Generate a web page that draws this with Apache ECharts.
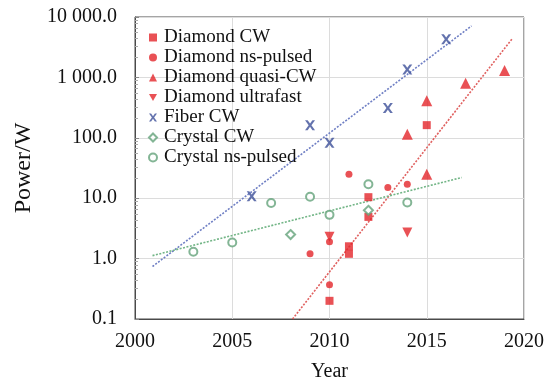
<!DOCTYPE html>
<html>
<head>
<meta charset="utf-8">
<script src="https://cdn.jsdelivr.net/npm/echarts@6/dist/echarts.min.js"></script>
<style>html,body{margin:0;padding:0;background:#fff}#c{width:552px;height:387px}</style>
</head>
<body>
<div id="c"></div>
<script>
var seriesNames = ['Diamond CW','Diamond ns-pulsed','Diamond quasi-CW','Diamond ultrafast','Fiber CW','Crystal CW','Crystal ns-pulsed'];
var diamondCW = [[2010,0.2],[2011,1.2],[2011,1.6],[2012,4.9],[2012,10.4],[2015,162]];
var diamondNs = [[2009,1.2],[2010,0.37],[2010,1.9],[2011,25],[2013,15],[2014,17]];
var diamondQuasi = [[2014,115],[2015,25],[2015,410],[2017,800],[2019,1300]];
var diamondUltra = [[2010,2.3],[2014,2.7]];
var fiberCW = [[2006,10.8],[2009,162],[2010,83],[2013,310],[2014,1350],[2016,4300]];
var crystalCW = [[2008,2.5],[2012,6.3]];
var crystalNs = [[2003,1.3],[2005,1.85],[2007,8.3],[2009,10.6],[2010,5.3],[2012,17],[2014,8.5]];
var trendFiber = [[2000.9,0.74],[2017.3,7100]];
var trendDiamond = [[2008.1,0.1],[2019.4,4400]];
var trendCrystal = [[2000.9,1.12],[2016.8,22]];
var yTickLabels = {'0.1':'0.1','1':'1.0','10':'10.0','100':'100.0','1000':'1 000.0','10000':'10 000.0'};

var RED = '#e3262b', BLUE = '#3c4f99', GREEN = '#64a27a';
var FONT = 'Liberation Serif';
var xPath = 'path://M0,0 L2.6,0 L5,3.3 L7.4,0 L10,0 L6.4,5 L10,10 L7.4,10 L5,6.7 L2.6,10 L0,10 L3.6,5 Z';
var downTri = 'path://M0,0 L10,0 L5,9 Z';

function sc(name, data, symbol, size, color, extra) {
  var s = {name: name, type: 'scatter', data: data, symbol: symbol, symbolSize: size,
    itemStyle: {color: color}, z: 3};
  if (extra) for (var k in extra) s[k] = extra[k];
  return s;
}
function tl(data, color) {
  return {type: 'line', data: data, symbol: 'none', silent: true, z: 2,
    lineStyle: {color: color, width: 1.6, type: [2, 1.5]}};
}

var chart = echarts.init(document.getElementById('c'));
chart.setOption({
  animation: false,
  textStyle: {fontFamily: FONT},
  grid: {left: 135, right: 28, top: 17, bottom: 60, show: true, borderColor: '#4a4a4a', borderWidth: 1},
  legend: {
    orient: 'vertical', left: 143, top: 23, itemGap: 1,
    itemWidth: 8, itemHeight: 8,
    data: [
      {name: seriesNames[0], icon: 'rect'},
      {name: seriesNames[1], icon: 'circle'},
      {name: seriesNames[2], icon: 'triangle'},
      {name: seriesNames[3], icon: downTri},
      {name: seriesNames[4], icon: xPath},
      {name: seriesNames[5], icon: 'emptyDiamond'},
      {name: seriesNames[6], icon: 'emptyCircle'}
    ],
    textStyle: {fontFamily: FONT, fontSize: 19, color: '#111', lineHeight: 19, padding: [0,0,0,2]}
  },
  xAxis: {
    type: 'value', min: 2000, max: 2020, interval: 5,
    name: 'Year', nameLocation: 'middle', nameGap: 43,
    nameTextStyle: {fontFamily: FONT, fontSize: 20, color: '#111'},
    axisLine: {show: true, lineStyle: {color: '#4a4a4a'}},
    axisTick: {show: false},
    axisLabel: {fontFamily: FONT, fontSize: 20, color: '#111', margin: 13,
      formatter: function (v) { return String(v); }},
    splitLine: {show: true, lineStyle: {color: '#dcdcdc', width: 1}}
  },
  yAxis: {
    type: 'log', logBase: 10, min: 0.1, max: 10000,
    name: 'Power/W', nameLocation: 'middle', nameGap: 99,
    nameTextStyle: {fontFamily: FONT, fontSize: 24, color: '#111'},
    axisLine: {show: true, lineStyle: {color: '#4a4a4a'}},
    axisTick: {show: true, inside: true, length: 4, lineStyle: {color: '#888'}},
    minorTick: {show: true, splitNumber: 8, length: 3, lineStyle: {color: '#aaa'}},
    axisLabel: {fontFamily: FONT, fontSize: 20, color: '#111', margin: 18,
      formatter: function (v) { var k = String(+v.toPrecision(3)); return yTickLabels[k] || k; }},
    splitLine: {show: true, lineStyle: {color: '#dcdcdc', width: 1}}
  },
  series: [
    tl(trendFiber, '#6f7fc4'),
    tl(trendDiamond, '#e0605f'),
    tl(trendCrystal, '#72b586'),
    sc(seriesNames[0], diamondCW, 'rect', 8, RED),
    sc(seriesNames[1], diamondNs, 'circle', 7, RED),
    sc(seriesNames[2], diamondQuasi, 'triangle', 11, RED),
    sc(seriesNames[3], diamondUltra, downTri, 10, RED),
    sc(seriesNames[4], fiberCW, xPath, 10, BLUE),
    sc(seriesNames[5], crystalCW, 'emptyDiamond', 9, GREEN, {itemStyle: {color: GREEN, borderWidth: 1.5}}),
    sc(seriesNames[6], crystalNs, 'emptyCircle', 8, GREEN, {itemStyle: {color: GREEN, borderWidth: 1.5}})
  ]
});
</script>
</body>
</html>
